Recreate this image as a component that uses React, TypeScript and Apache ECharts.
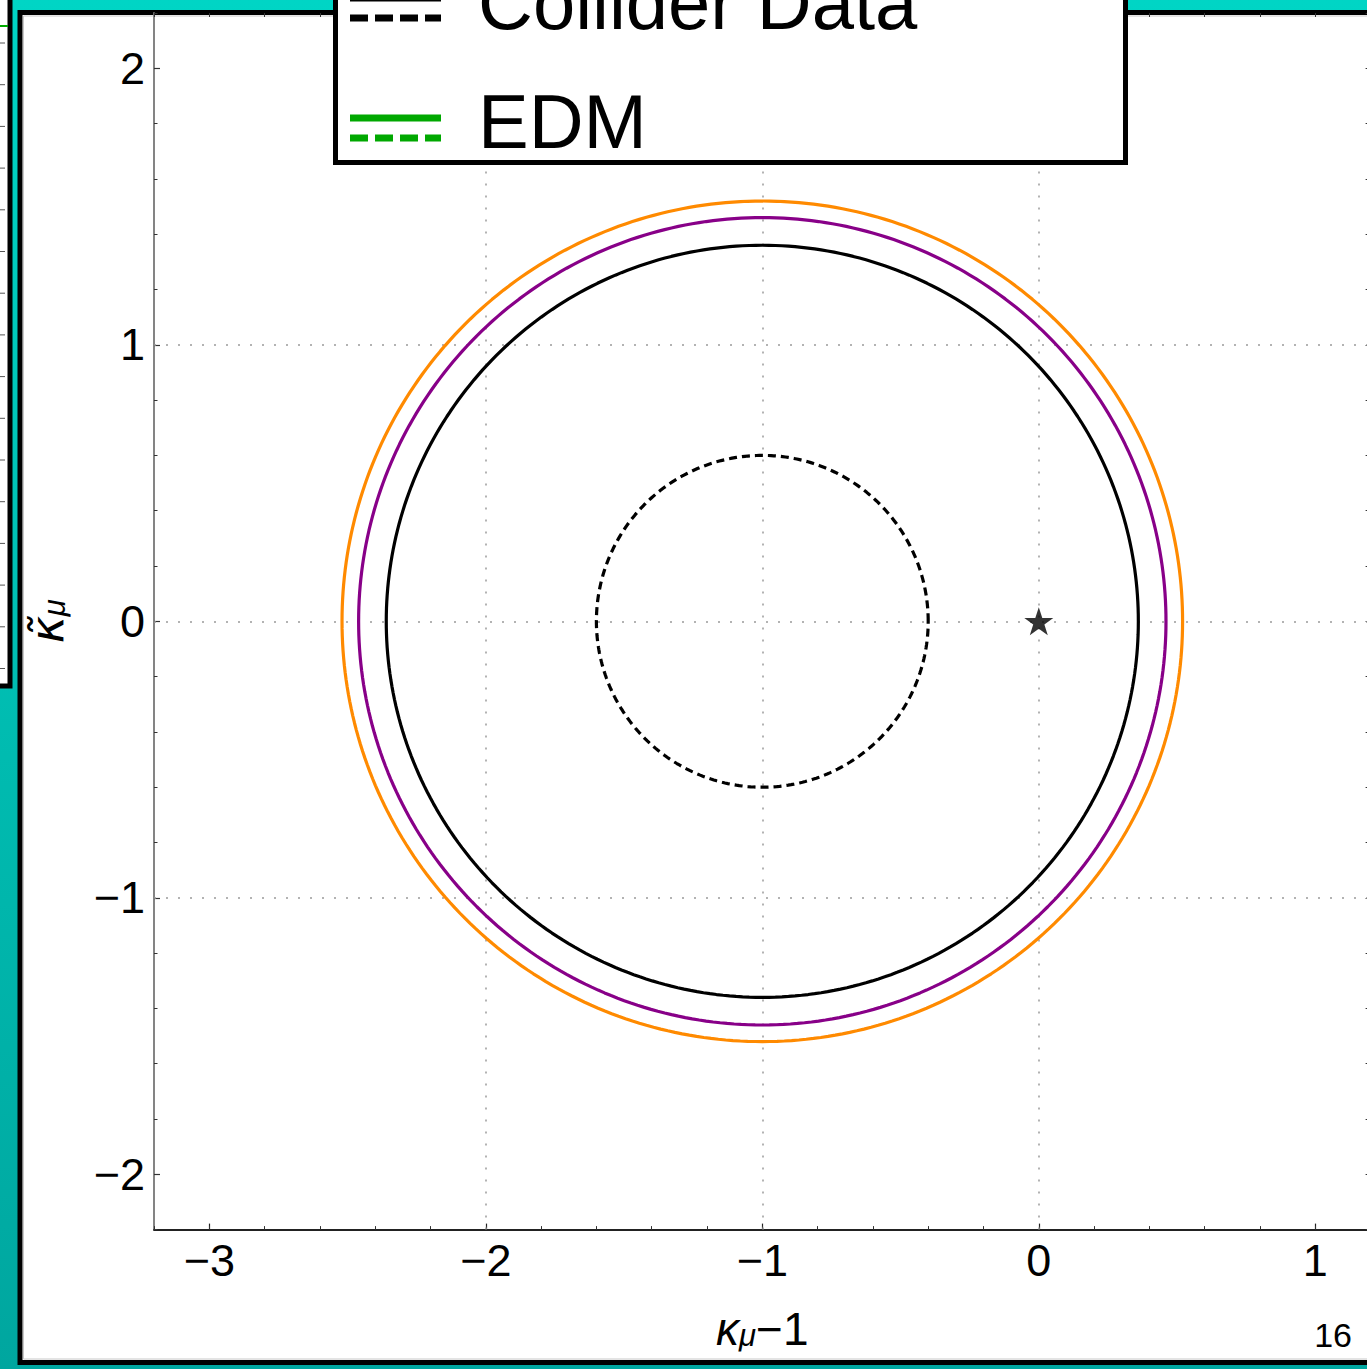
import React, { useEffect, useRef } from "react";
import * as echarts from "echarts";

// ---- data ----
const xMajorTicks = [-3, -2, -1, 0, 1];
const yMajorTicks = [-2, -1, 0, 1, 2];
const xRange = [-3.2, 1.2];
const yRange = [-2.2, 2.2];
const minorStep = 0.2;
const xGridLines = [-2, -1, 0];
const yGridLines = [-1, 0, 1];
const circleCenter = [-1, 0];
const contourNames = ["EDM (orange)", "EDM (purple)", "Collider Data", "Collider Data (dashed)"];
const contourRadii = [1.52, 1.46, 1.36, 0.6];
const smPoint = [[0, 0]];
const legendLabels = ["Collider Data", "EDM"];
const pageNumber = "16";

// ---- styles ----
const contourColors = ["#FF8A00", "#880088", "#000000", "#000000"];
const contourDashed = [false, false, false, true];
const FONT = "Liberation Sans";

const minorTicks = (r: number[]) => {
  const out: number[] = [];
  const n = Math.round((r[1] - r[0]) / minorStep);
  for (let i = 0; i <= n; i++) out.push(Math.round((r[0] + i * minorStep) * 10) / 10);
  return out;
};

const circlePoints = (r: number) => {
  const pts: number[][] = [];
  for (let a = 0; a <= 360; a += 1) {
    const t = (a * Math.PI) / 180;
    pts.push([circleCenter[0] + r * Math.cos(t), circleCenter[1] + r * Math.sin(t)]);
  }
  return pts;
};

const fmt = (v: number) => (v < 0 ? "\u2212" + Math.abs(v) : String(v));

const STAR =
  "path://M50,0 L61.8,35.1 L98.9,35.1 L68.8,56.7 L80.3,91.9 L50,70 L19.7,91.9 L31.2,56.7 L1.1,35.1 L38.2,35.1 Z";

const CHART_W = 1400;

export default function App() {
  const ref = useRef<HTMLDivElement>(null);
  useEffect(() => {
    if (!ref.current) return;
    const chart = echarts.init(ref.current, undefined, { renderer: "svg" });

    const xMinor = minorTicks(xRange);
    const yMinor = minorTicks(yRange);

    const richX = {
      k: { fontSize: 46, fontStyle: "italic", fontFamily: FONT, color: "#000" },
      s: { fontSize: 31, fontStyle: "italic", fontFamily: FONT, color: "#000", padding: [14, 0, 0, 0] },
      t: { fontSize: 46, fontFamily: FONT, color: "#000" },
    };
    const richY = {
      k: { fontSize: 46, fontStyle: "italic", fontFamily: "DejaVu Sans", color: "#000" },
      s: { fontSize: 31, fontStyle: "italic", fontFamily: FONT, color: "#000", padding: [14, 0, 0, 0] },
    };

    const leftTicks: any[] = [];
    for (let i = 0; i < 16; i++) {
      const y = 43 + i * 41.7;
      if (y > 680) break;
      leftTicks.push({
        type: "line",
        z: -5,
        shape: { x1: 0, y1: y, x2: 5, y2: y },
        style: { stroke: "#555", lineWidth: 1 },
      });
    }

    const series: any[] = contourRadii.map((r, i) => ({
      name: contourNames[i],
      type: "line",
      data: circlePoints(r),
      showSymbol: false,
      symbol: "none",
      smooth: false,
      lineStyle: {
        color: contourColors[i],
        width: 3.2,
        type: contourDashed[i] ? [8, 5] : "solid",
      },
      z: 3,
      silent: true,
      ...(i === 0
        ? {
            markLine: {
              silent: true,
              symbol: "none",
              label: { show: false },
              z: 1,
              lineStyle: { color: "#9a9a9a", width: 1.5, type: [2, 10] },
              data: [
                ...xGridLines.map((v) => ({ xAxis: v })),
                ...yGridLines.map((v) => ({ yAxis: v })),
              ],
            },
          }
        : {}),
    }));
    series.push({
      name: "SM",
      type: "scatter",
      data: smPoint,
      symbol: STAR,
      symbolSize: [29, 28],
      itemStyle: { color: "#000" },
      z: 5,
      silent: true,
    });

    const option: any = {
      animation: false,
      textStyle: { fontFamily: FONT },
      grid: { left: 154, top: 13, width: 1216.6, height: 1216.6, containLabel: false },
      xAxis: [
        {
          type: "value",
          min: xRange[0],
          max: xRange[1],
          position: "bottom",
          axisLine: { show: true, onZero: false, lineStyle: { color: "#222", width: 1.8 } },
          axisTick: { show: true, inside: true, length: 6, customValues: xMajorTicks, lineStyle: { color: "#222", width: 1.2 } },
          axisLabel: { show: true, customValues: xMajorTicks, formatter: fmt, fontSize: 45, color: "#000", margin: 8, fontFamily: FONT },
          splitLine: { show: false },
          name: "{k|κ}{s|μ}{t|\u22121}",
          nameLocation: "middle",
          nameGap: 76,
          nameTextStyle: { rich: richX },
        },
        {
          type: "value",
          min: xRange[0],
          max: xRange[1],
          position: "bottom",
          axisLine: { show: false, onZero: false },
          axisTick: { show: true, inside: true, length: 3.5, customValues: xMinor, lineStyle: { color: "#333", width: 1 } },
          axisLabel: { show: false },
          splitLine: { show: false },
        },
        {
          type: "value",
          min: xRange[0],
          max: xRange[1],
          position: "top",
          axisLine: { show: false, onZero: false },
          axisTick: { show: true, inside: true, length: 4, customValues: xMinor, lineStyle: { color: "#333", width: 1 } },
          axisLabel: { show: false },
          splitLine: { show: false },
        },
      ],
      yAxis: [
        {
          type: "value",
          min: yRange[0],
          max: yRange[1],
          position: "left",
          axisLine: { show: true, onZero: false, lineStyle: { color: "#777", width: 1.8 } },
          axisTick: { show: true, inside: true, length: 6, customValues: yMajorTicks, lineStyle: { color: "#333", width: 1.2 } },
          axisLabel: { show: true, customValues: yMajorTicks, formatter: fmt, fontSize: 45, color: "#000", margin: 9, fontFamily: FONT },
          splitLine: { show: false },
          name: "{k|κ\u0303}{s|μ}",
          nameLocation: "middle",
          nameGap: 84,
          nameRotate: 90,
          nameTextStyle: { rich: richY },
        },
        {
          type: "value",
          min: yRange[0],
          max: yRange[1],
          position: "left",
          axisLine: { show: false, onZero: false },
          axisTick: { show: true, inside: true, length: 3.5, customValues: yMinor, lineStyle: { color: "#333", width: 1 } },
          axisLabel: { show: false },
          splitLine: { show: false },
        },
        {
          type: "value",
          min: yRange[0],
          max: yRange[1],
          position: "right",
          axisLine: { show: false, onZero: false },
          axisTick: { show: true, inside: true, length: 5, customValues: yMinor, lineStyle: { color: "#333", width: 1 } },
          axisLabel: { show: false },
          splitLine: { show: false },
        },
      ],
      series,
      graphic: [
        {
          type: "rect",
          z: -20,
          shape: { x: 0, y: 0, width: CHART_W, height: 1369 },
          style: {
            fill: new echarts.graphic.LinearGradient(0, 0, 0, 1, [
              { offset: 0, color: "#00D5C5" },
              { offset: 1, color: "#00A69F" },
            ]),
          },
        },
        {
          type: "rect",
          z: -10,
          shape: { x: -20, y: -20, width: 30, height: 706 },
          style: { fill: "#fff", stroke: "#000", lineWidth: 5 },
        },
        {
          type: "line",
          z: -5,
          shape: { x1: 0, y1: 26, x2: 8, y2: 26 },
          style: { stroke: "#00AA00", lineWidth: 2 },
        },
        ...leftTicks,
        {
          type: "rect",
          z: -10,
          shape: { x: 20, y: 12.5, width: 1420, height: 1350 },
          style: { fill: "#fff", stroke: "#000", lineWidth: 5 },
        },
        {
          type: "rect",
          z: -9,
          shape: { x: 23.5, y: 16, width: 1420, height: 1343 },
          style: { fill: "none", stroke: "#c8c8c8", lineWidth: 1 },
        },
        {
          type: "text",
          z: 10,
          style: { text: pageNumber, x: 1352, y: 1335, align: "right", verticalAlign: "middle", fontSize: 34, fontFamily: FONT, fill: "#000" },
        },
        // legend box
        {
          type: "rect",
          z: 100,
          shape: { x: 335.5, y: -20, width: 790, height: 182.5 },
          style: { fill: "#fff", stroke: "#000", lineWidth: 5 },
        },
        {
          type: "line",
          z: 101,
          shape: { x1: 350, y1: -2, x2: 441, y2: -2 },
          style: { stroke: "#000", lineWidth: 7 },
        },
        {
          type: "line",
          z: 101,
          shape: { x1: 350, y1: 18, x2: 441, y2: 18 },
          style: { stroke: "#000", lineWidth: 7, lineDash: [18, 7] },
        },
        {
          type: "text",
          z: 101,
          style: { text: legendLabels[0], x: 478, y: 2, verticalAlign: "middle", fontSize: 76, fontFamily: FONT, fill: "#000" },
        },
        {
          type: "line",
          z: 101,
          shape: { x1: 350, y1: 118, x2: 441, y2: 118 },
          style: { stroke: "#00A800", lineWidth: 7 },
        },
        {
          type: "line",
          z: 101,
          shape: { x1: 350, y1: 138, x2: 441, y2: 138 },
          style: { stroke: "#00A800", lineWidth: 7, lineDash: [18, 7] },
        },
        {
          type: "text",
          z: 101,
          style: { text: legendLabels[1], x: 478, y: 121, verticalAlign: "middle", fontSize: 76, fontFamily: FONT, fill: "#000" },
        },
      ],
    };

    chart.setOption(option);
    return () => chart.dispose();
  }, []);

  return (
    <div style={{ position: "absolute", left: 0, top: 0, width: 1367, height: 1369, overflow: "hidden" }}>
      <div ref={ref} style={{ width: CHART_W, height: 1369 }} />
    </div>
  );
}
